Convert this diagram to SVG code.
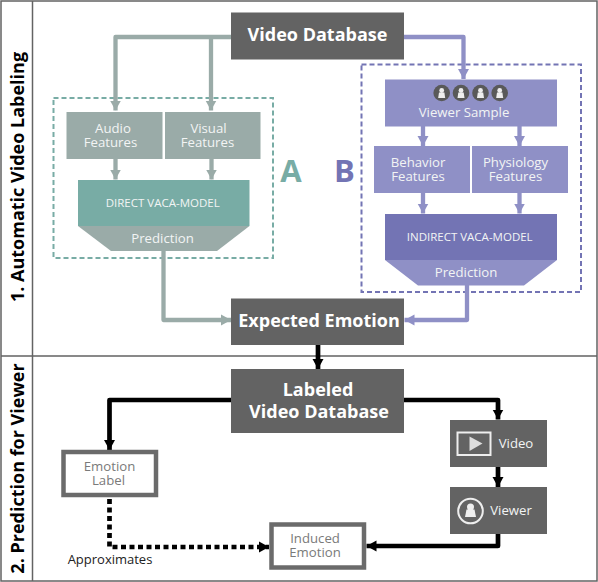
<svg xmlns="http://www.w3.org/2000/svg" width="598" height="582" viewBox="0 0 598 582">
<style>
text{font-family:"Open Sans","DejaVu Sans",sans-serif;text-anchor:middle}
.frame{fill:none;stroke:#636363;stroke-width:1.5}
.dark{fill:#636363}
.h{font-weight:700;font-size:18px;fill:#fff}
.lab{font-weight:700;font-size:18px;fill:#000}
.g{fill:#9aaba8}.t{fill:#78aca5}.p{fill:#8f90c6}.pd{fill:#7374b4}
.w{font-size:13.200px;fill:#f2f4f4}
.m{font-size:11.500px;fill:#f2f4f4}
.out{fill:#fff;stroke:#6b6b6b;stroke-width:4.5}
.o{font-size:13.200px;fill:#7a7a7a}
.c{fill:none;stroke-linejoin:round}
.cg{stroke:#9aaba8;stroke-width:4.3}
.cp{stroke:#8f90c6;stroke-width:4.3}
.ck{stroke:#000;stroke-width:4.7}
</style>
<defs>
<marker id="ag" markerUnits="userSpaceOnUse" markerWidth="12" markerHeight="12" refX="10" refY="6" orient="auto"><path d="M0 0.5L10 6L0 11.5z" fill="#9aaba8"/></marker>
<marker id="ap" markerUnits="userSpaceOnUse" markerWidth="12" markerHeight="12" refX="10" refY="6" orient="auto"><path d="M0 0.5L10 6L0 11.5z" fill="#8f90c6"/></marker>
<marker id="ak" markerUnits="userSpaceOnUse" markerWidth="12" markerHeight="12" refX="10" refY="6" orient="auto"><path d="M0 0.5L10 6L0 11.5z" fill="#000"/></marker>
</defs>
<rect width="598" height="582" fill="#fff"/>
<g id="frame">
<rect class="frame" x="1" y="1" width="596" height="580"/>
<path class="frame" d="M32.5 1V581M1 356H597"/>
<text class="lab" transform="translate(24 177) rotate(-90)">1. Automatic Video Labeling</text>
<text class="lab" transform="translate(24 468.500) rotate(-90)">2. Prediction for Viewer</text>
</g>
<g id="groups">
<rect x="53.500" y="98" width="219.500" height="160" fill="none" stroke="#78aca5" stroke-width="2" stroke-dasharray="5 3"/>
<rect x="361.500" y="64.500" width="219.500" height="227.500" fill="none" stroke="#7374b4" stroke-width="2" stroke-dasharray="5 3"/>
<text x="291" y="182" fill="#78aca5" style="font-size:31px;font-weight:700">A</text>
<text x="344.500" y="182" fill="#7374b4" style="font-size:31px;font-weight:700">B</text>
</g>
<g id="connectors">
<path class="c cg" marker-end="url(#ag)" d="M231 37H115.500V110.500"/>
<path class="c cg" marker-end="url(#ag)" d="M211 37V110.500"/>
<path class="c cg" marker-end="url(#ag)" d="M115.500 159V179.500"/>
<path class="c cg" marker-end="url(#ag)" d="M211.500 159V179.500"/>
<path class="c cg" marker-end="url(#ag)" d="M163.500 251V320H231"/>
<path class="c cp" marker-end="url(#ap)" d="M404 37H463.500V79"/>
<path class="c cp" marker-end="url(#ap)" d="M423 126V146"/>
<path class="c cp" marker-end="url(#ap)" d="M519.500 126V146"/>
<path class="c cp" marker-end="url(#ap)" d="M423 193V213.500"/>
<path class="c cp" marker-end="url(#ap)" d="M519.500 193V213.500"/>
<path class="c cp" marker-end="url(#ap)" d="M467 285V320H404.500"/>
<path class="c ck" marker-end="url(#ak)" d="M318 345V369"/>
<path class="c ck" marker-end="url(#ak)" d="M231 400H109.500V450"/>
<path class="c ck" marker-end="url(#ak)" d="M404 400H498V419.500"/>
<path class="c ck" marker-end="url(#ak)" d="M498 467V487"/>
<path class="c ck" marker-end="url(#ak)" d="M498 534V546H366.500"/>
<path class="c ck" stroke-dasharray="5 3.500" marker-end="url(#ak)" d="M109.500 499V547H269"/>
</g>
<g id="video-database"><rect class="dark" x="231" y="12.500" width="173" height="47"/><text class="h" x="317.500" y="41">Video Database</text></g>
<g id="audio-features"><rect class="g" x="66.500" y="112" width="96" height="47"/><text class="w" x="113" y="133">Audio</text><text class="w" x="110.500" y="147">Features</text></g>
<g id="visual-features"><rect class="g" x="165" y="112" width="95.500" height="47"/><text class="w" x="208.500" y="133">Visual</text><text class="w" x="207.500" y="147">Features</text></g>
<g id="direct-model"><rect class="t" x="78" y="180" width="171.500" height="46"/><text class="m" x="162.700" y="206.500">DIRECT VACA-MODEL</text><path class="g" d="M78 226H249.500L217 251H111z"/><text class="w" x="162.500" y="243">Prediction</text></g>
<g id="viewer-sample"><rect class="p" x="385" y="79.500" width="172" height="47"/>
<g id="people"><circle cx="441.700" cy="93" r="8.300" fill="#595959"/><circle cx="461" cy="93" r="8.300" fill="#595959"/><circle cx="480.500" cy="93" r="8.300" fill="#595959"/><circle cx="499.700" cy="93" r="8.300" fill="#595959"/>
<g fill="#eee"><circle cx="441.700" cy="90.500" r="2.400"/><path d="M438.200 98L439 92.500H444.400L445.200 98z"/><circle cx="461" cy="90.500" r="2.400"/><path d="M457.500 98L458.300 92.500H463.700L464.500 98z"/><circle cx="480.500" cy="90.500" r="2.400"/><path d="M477 98L477.800 92.500H483.200L484 98z"/><circle cx="499.700" cy="90.500" r="2.400"/><path d="M496.200 98L497 92.500H502.400L503.200 98z"/></g></g>
<text class="w" x="464" y="117">Viewer Sample</text></g>
<g id="behavior-features"><rect class="p" x="374" y="146" width="96" height="47"/><text class="w" x="418" y="167">Behavior</text><text class="w" x="418" y="181">Features</text></g>
<g id="physiology-features"><rect class="p" x="472" y="146" width="96" height="47"/><text class="w" x="515.500" y="167">Physiology</text><text class="w" x="515.500" y="181">Features</text></g>
<g id="indirect-model"><rect class="pd" x="385" y="214" width="172" height="46"/><text class="m" x="469.700" y="240.500">INDIRECT VACA-MODEL</text><path class="p" d="M385 260H557L524 285.500H418z"/><text class="w" x="466" y="277">Prediction</text></g>
<g id="expected-emotion"><rect class="dark" x="231" y="298.500" width="173" height="46.500"/><text class="h" x="319" y="327">Expected Emotion</text></g>
<g id="labeled-database"><rect class="dark" x="231" y="369" width="173" height="64"/><text class="h" x="318" y="396">Labeled</text><text class="h" x="319" y="418">Video Database</text></g>
<g id="emotion-label"><rect class="out" x="63.500" y="452" width="92.500" height="43"/><text class="o" x="109.500" y="471">Emotion</text><text class="o" x="108.500" y="485">Label</text></g>
<g id="induced-emotion"><rect class="out" x="271.500" y="524.500" width="92.500" height="43"/><text class="o" x="315" y="543">Induced</text><text class="o" x="315" y="557">Emotion</text></g>
<g id="video"><rect class="dark" x="450" y="420" width="97" height="47"/><rect x="457.500" y="432.500" width="33" height="22.500" fill="none" stroke="#eee" stroke-width="2"/><path d="M469.500 436.500L482.500 443.500L469.500 451z" fill="#ddd"/><text class="w" x="516" y="448">Video</text></g>
<g id="viewer"><rect class="dark" x="450" y="487" width="97" height="47"/><circle cx="470.500" cy="511" r="12.300" fill="none" stroke="#eee" stroke-width="2"/><circle cx="470.500" cy="507" r="3.500" fill="#eee"/><path d="M465 517L466.500 509.500H474.500L476 517z" fill="#eee"/><text class="w" x="511" y="515">Viewer</text></g>
<text id="approximates" x="110" y="564" fill="#222" style="font-size:13px">Approximates</text>
</svg>
